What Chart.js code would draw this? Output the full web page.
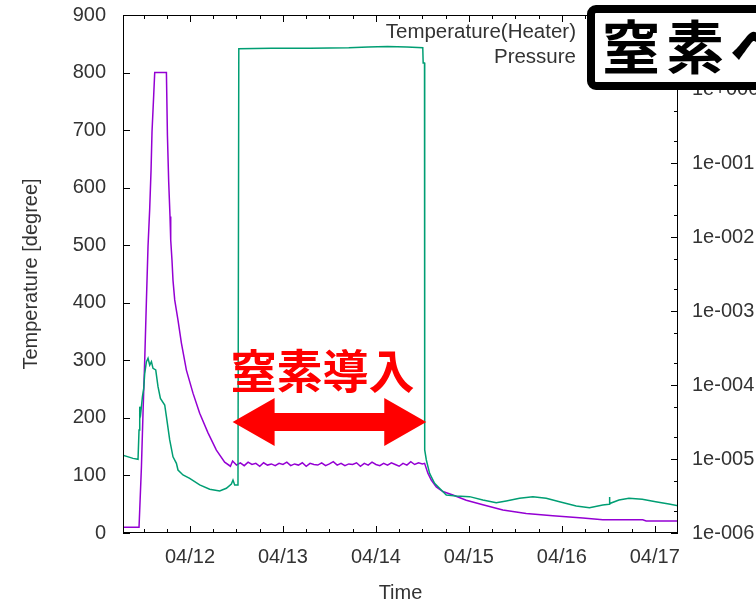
<!DOCTYPE html>
<html>
<head>
<meta charset="utf-8">
<script src="https://cdn.jsdelivr.net/npm/chart.js@4.4.1/dist/chart.umd.min.js"></script>
<style>
  body { margin: 0; background: #fff; }
  canvas { display: block; }
</style>
</head>
<body>
<canvas id="chart" width="756" height="606"></canvas>
<script>
// hours counted from 04/11 00:00
const tempHours = [6.5, 10.84, 11.46, 11.87, 12.31, 12.75, 13.16, 13.60, 13.94, 14.19, 14.63, 14.89,
  17.91, 18.17, 18.50, 18.84, 19.02, 19.35, 19.61, 20.05, 20.90, 21.78, 23.07, 24.77, 26.50,
  28.65, 30.81, 32.95, 34.43,
  35, 36, 37, 38, 39, 40, 41, 42, 43, 44, 45, 46, 47, 48, 49, 50, 51, 52, 53, 54, 55, 56, 57, 58, 59,
  60, 61, 62, 63, 64, 65, 66, 67, 68, 69, 70, 71, 72, 73, 74, 75, 76, 77, 78, 79, 80, 81, 82, 83, 84,
  84.57, 85.42, 86.30, 87.59, 89.29, 91.87, 95.33, 99.61, 104.77, 110.81, 117.68, 125.42,
  130.58, 140.90, 141.78, 150.2];
const tempValues = [10, 10, 115, 209, 301, 405, 498, 564, 630, 697, 761, 800,
  800, 691, 610, 550, 509, 474, 439, 405, 370, 330, 283, 243, 208,
  174, 144, 123, 116,
  125, 118, 122, 117, 123, 119, 121, 116, 122, 118, 120, 117, 121, 119, 123, 117, 120, 118, 122, 116, 121,
  119, 118, 122, 117, 120, 124, 118, 121, 117, 120, 119, 122, 116, 121, 118, 123, 119, 117, 121, 118,
  122, 119, 116, 121, 118, 124, 119, 122, 120,
  121, 104, 92, 80, 72, 66, 57, 49, 40, 34, 30, 26,
  23, 23, 21, 21];

const presHours = [6.5, 9.29, 10.58, 10.84, 11.02, 11.28, 11.72, 12.05, 12.31, 12.75, 13.16, 13.60,
  14.04, 14.45, 15.15, 15.74, 16.36, 17.47, 17.91, 18.76, 19.61, 20.49, 20.90, 22.19, 23.92,
  26.50, 29.08, 31.66, 33.39, 34.68, 35.10, 35.54, 36.39, 36.60, 45, 55, 65, 70, 75, 80, 84.1,
  84.2, 84.55, 84.6, 85.02, 85.86, 87.15, 88.88, 90.17, 92.75, 96.18, 99.61, 103.07, 105.65,
  109.08, 112.52, 115.97, 119.41, 123.72, 127.15, 130.58, 132.2, 132.3, 132.4, 134.76, 137.34,
  140.77, 144.23, 147.66, 150.2];
const presValues = [1.13e-5, 1.02e-5, 9.9e-6, 2.47e-5, 5.1e-5, 4.19e-5, 6.95e-5, 9.0e-5, 1.44e-4, 2.07e-4, 2.30e-4, 1.86e-4,
  2.07e-4, 1.68e-4, 1.60e-4, 9.5e-5, 6.6e-5, 5.37e-5, 3.73e-5, 1.81e-5, 1.07e-5, 8.75e-6, 7.1e-6, 6.08e-6, 5.48e-6,
  4.46e-6, 3.90e-6, 3.70e-6, 4.02e-6, 4.59e-6, 5.2e-6, 4.46e-6, 4.46e-6, 3.5, 3.55, 3.55, 3.6, 3.7, 3.75, 3.7, 3.6,
  2.24, 2.24, 1.33e-5, 9.7e-6, 6.4e-6, 4.7e-6, 3.81e-6, 3.27e-6, 3.16e-6, 3.1e-6, 2.79e-6, 2.56e-6, 2.71e-6,
  2.94e-6, 3.1e-6, 2.94e-6, 2.65e-6, 2.32e-6, 2.20e-6, 2.39e-6, 2.45e-6, 3.06e-6, 2.5e-6, 2.79e-6, 2.94e-6,
  2.85e-6, 2.65e-6, 2.47e-6, 2.32e-6];

const dayTicks = [24, 48, 72, 96, 120, 144];
const tempTicks = [0, 100, 200, 300, 400, 500, 600, 700, 800, 900];
const presExps = [-6, -5, -4, -3, -2, -1, 0, 1];
const seriesNames = ["Temperature(Heater)", "Pressure"];
const seriesColors = ["#9400d3", "#009e73"];

const FONT = '"Liberation Sans", Arial, sans-serif';
Chart.defaults.font.family = FONT;
Chart.defaults.font.size = 20;
Chart.defaults.color = "#333";

function dayLabel(h) {
  const d = 11 + Math.floor(h / 24);
  return "04/" + d;
}
function expLabel(v) {
  const e = Math.round(Math.log10(v));
  const s = e < 0 ? "-" : "+";
  return "1e" + s + String(Math.abs(e)).padStart(3, "0");
}
// keep the plot area where it is, tick labels may stick out
function noPad(s) {
  s.paddingTop = 0; s.paddingBottom = 0;
  s.paddingLeft = 0; s.paddingRight = 0;
}

// inward gnuplot-like tics and border
const frameTicks = {
  id: "frameTicks",
  afterDatasetsDraw(chart) {
    const { ctx, chartArea: { left, right, top, bottom }, scales: { x, y, y2 } } = chart;
    ctx.save();
    ctx.strokeStyle = "#000";
    ctx.lineWidth = 1;
    ctx.beginPath();
    for (let h = 6; h < x.max; h += 6) {
      if (h <= x.min) continue;
      const px = Math.round(x.getPixelForValue(h)) + 0.5;
      const len = h % 24 === 0 ? 7 : 4;
      ctx.moveTo(px, bottom); ctx.lineTo(px, bottom - len);
      ctx.moveTo(px, top); ctx.lineTo(px, top + len);
    }
    tempTicks.forEach(v => {
      const py = Math.round(y.getPixelForValue(v)) + 0.5;
      ctx.moveTo(left, py); ctx.lineTo(left + 7, py);
    });
    presExps.forEach(e => {
      [1, 2, 5].forEach(m => {
        const v = m * Math.pow(10, e);
        if (v > y2.max) return;
        const py = Math.round(y2.getPixelForValue(v)) + 0.5;
        const len = m === 1 ? 7 : 4;
        ctx.moveTo(right, py); ctx.lineTo(right - len, py);
      });
    });
    ctx.stroke();
    ctx.strokeRect(left + 0.5, top + 0.5, right - left - 1, bottom - top - 1);
    ctx.restore();
  }
};

// legend, red note with double arrow, black label box
const notes = {
  id: "notes",
  afterDraw(chart) {
    const { ctx, scales: { x, y } } = chart;
    ctx.save();
    // legend
    ctx.font = "20.5px " + FONT;
    ctx.fillStyle = "#333";
    ctx.textAlign = "right";
    ctx.textBaseline = "middle";
    seriesNames.forEach((name, i) => {
      const ly = 32 + i * 25;
      ctx.fillText(name, 576, ly);
      ctx.strokeStyle = seriesColors[i];
      ctx.lineWidth = 1.5;
      ctx.beginPath(); ctx.moveTo(595, ly); ctx.lineTo(640, ly); ctx.stroke();
    });

    // double arrow between nitrogen start and end
    const x1 = x.getPixelForValue(35), x2 = x.getPixelForValue(85);
    const ay = y.getPixelForValue(193);
    const headL = 42, headH = 24, shaft = 9;
    ctx.fillStyle = "#ff0000";
    ctx.beginPath();
    ctx.moveTo(x1, ay);
    ctx.lineTo(x1 + headL, ay - headH);
    ctx.lineTo(x1 + headL, ay - shaft);
    ctx.lineTo(x2 - headL, ay - shaft);
    ctx.lineTo(x2 - headL, ay - headH);
    ctx.lineTo(x2, ay);
    ctx.lineTo(x2 - headL, ay + headH);
    ctx.lineTo(x2 - headL, ay + shaft);
    ctx.lineTo(x1 + headL, ay + shaft);
    ctx.lineTo(x1 + headL, ay + headH);
    ctx.closePath();
    ctx.fill();

    ctx.font = 'bold 46px "Noto Sans CJK JP", sans-serif';
    ctx.textAlign = "center";
    ctx.fillText("窒素導入", (x1 + x2) / 2 - 7, y.getPixelForValue(283));

    // black framed label at top right
    ctx.fillStyle = "#fff";
    ctx.strokeStyle = "#000";
    ctx.lineWidth = 8;
    ctx.beginPath();
    ctx.roundRect(591, 9, 220, 77, 5);
    ctx.fill();
    ctx.stroke();
    ctx.fillStyle = "#000";
    ctx.textAlign = "left";
    ctx.font = 'bold 58px "Noto Sans CJK JP", sans-serif';
    ctx.letterSpacing = "6px";
    ctx.fillText("窒素ベーク", 602, 47);
    ctx.restore();
  }
};

new Chart(document.getElementById("chart"), {
  type: "line",
  data: {
    datasets: [
      {
        label: seriesNames[0],
        data: tempHours.map((h, i) => ({ x: h, y: tempValues[i] })),
        borderColor: seriesColors[0],
        borderWidth: 1.5,
        pointRadius: 0,
        tension: 0,
        yAxisID: "y",
        order: 1
      },
      {
        label: seriesNames[1],
        data: presHours.map((h, i) => ({ x: h, y: presValues[i] })),
        borderColor: seriesColors[1],
        borderWidth: 1.5,
        pointRadius: 0,
        tension: 0,
        yAxisID: "y2",
        order: 0
      }
    ]
  },
  options: {
    responsive: false,
    animation: false,
    layout: { padding: { top: 15, left: 0, right: 0, bottom: 0 } },
    plugins: { legend: { display: false }, tooltip: { enabled: false } },
    scales: {
      x: {
        type: "linear",
        min: 6.7,
        max: 150,
        grid: { display: false, drawTicks: false },
        border: { display: false },
        afterBuildTicks: s => { s.ticks = dayTicks.map(v => ({ value: v })); },
        afterFit: s => { s.height = 73; noPad(s); },
        ticks: { padding: 12, maxRotation: 0, autoSkip: false, callback: v => dayLabel(v) },
        title: { display: true, text: "Time", padding: { top: 0, bottom: 1 } }
      },
      y: {
        position: "left",
        min: 0,
        max: 900,
        grid: { display: false, drawTicks: false },
        border: { display: false },
        afterBuildTicks: s => { s.ticks = tempTicks.map(v => ({ value: v })); },
        afterFit: s => { s.width = 123; noPad(s); },
        ticks: { padding: 17 },
        title: { display: true, text: "Temperature [degree]", padding: { top: 19, bottom: 0 } }
      },
      y2: {
        type: "logarithmic",
        position: "right",
        min: 1e-6,
        max: 10,
        grid: { display: false, drawTicks: false },
        border: { display: false },
        afterBuildTicks: s => { s.ticks = presExps.map(e => ({ value: Math.pow(10, e), major: true })); },
        afterFit: s => { s.width = 78; noPad(s); },
        ticks: { padding: 14, autoSkip: false, callback: v => expLabel(v) }
      }
    }
  },
  plugins: [frameTicks, notes]
});
</script>
</body>
</html>
